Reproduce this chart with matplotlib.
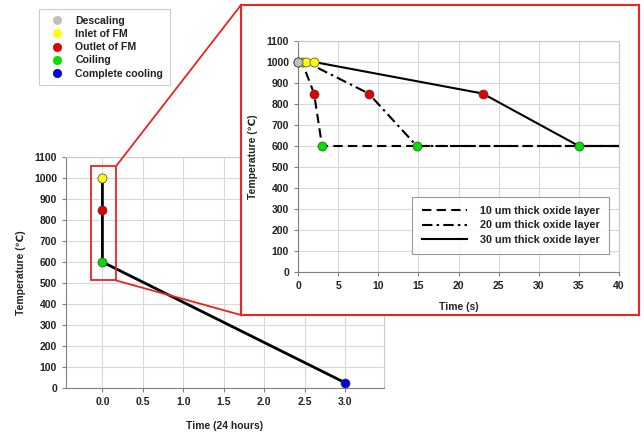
import matplotlib
matplotlib.use("Agg")
import matplotlib.pyplot as plt
from matplotlib.lines import Line2D
from matplotlib.patches import Rectangle, ConnectionPatch

plt.rcParams['font.family'] = ['Liberation Sans', 'DejaVu Sans']
plt.rcParams['font.weight'] = 'bold'

# ---- data ----
stage_names = ['Descaling', 'Inlet of FM', 'Outlet of FM', 'Coiling', 'Complete cooling']
stage_colors = ['#c0c0c0', '#ffff00', '#e00000', '#00e000', '#0000e0']

main_time = [0.0, 0.0, 0.0, 3.0]          # 24 hours
main_temp = [1000, 850, 600, 25]
main_stage = [1, 2, 3, 4]

series_labels = ['10 um thick oxide layer', '20 um thick oxide layer', '30 um thick oxide layer']
t10 = [0, 0.5, 2.0, 3.0, 40]
T10 = [1000, 1000, 850, 600, 600]
t20 = [0, 1.0, 8.8, 14.8, 40]
T20 = [1000, 1000, 850, 600, 600]
t30 = [0, 2.0, 23.0, 35.0, 40]
T30 = [1000, 1000, 850, 600, 600]
inset_stage = [0, 1, 2, 3]

main_yticks = list(range(0, 1101, 100))
main_xticks = [0.0, 0.5, 1.0, 1.5, 2.0, 2.5, 3.0]
inset_xticks = list(range(0, 41, 5))

W, H = 644, 432
fig = plt.figure(figsize=(W/100, H/100), dpi=100)

def fbox(x0, y0, x1, y1):
    return [x0/W, 1 - y1/H, (x1-x0)/W, (y1-y0)/H]

tick_fs = 7.5
grid_c = '#d9d9d9'

def style_axes(ax):
    ax.grid(True, color=grid_c, lw=0.8)
    ax.set_axisbelow(True)
    for s in ['top', 'right']:
        ax.spines[s].set_color('#c8c8c8')
    for s in ['left', 'bottom']:
        ax.spines[s].set_color('#808080')
    ax.tick_params(labelsize=tick_fs, colors='#808080', labelcolor='#222222', length=3, width=0.8)
    for lab in ax.get_xticklabels() + ax.get_yticklabels():
        lab.set_fontweight('bold')

# ---- main axes ----
ax = fig.add_axes(fbox(66, 157, 384, 388))
ax.plot(main_time, main_temp, color='black', lw=2, zorder=3)
for t, T, s in zip(main_time, main_temp, main_stage):
    ax.plot(t, T, 'o', ms=6.5, mfc=stage_colors[s], mec='#404040', mew=0.5, zorder=4)
ax.set_xlim(-0.45, 3.48)
ax.set_ylim(0, 1100)
ax.set_xticks(main_xticks)
ax.set_xticklabels([f'{v:.1f}' for v in main_xticks])
ax.set_yticks(main_yticks)
style_axes(ax)
ax.set_xlabel('Time (24 hours)', fontsize=7.5, fontweight='bold', color='#222222', labelpad=10)
ax.set_ylabel('Temperature (\u2103)', fontsize=7.5, fontweight='bold', color='#222222', labelpad=6)
ax.add_patch(Rectangle((-0.14, 512), 0.31, 545, fill=False, ec='#ee2222', lw=1.3, zorder=5))

# ---- inset frame ----
frame = fig.add_axes(fbox(241, 5, 639, 315))
frame.set_xticks([]); frame.set_yticks([])
for s in frame.spines.values():
    s.set_color('#ee2222'); s.set_linewidth(1.5)
frame.set_facecolor('white')

# ---- inset axes ----
ix = fig.add_axes(fbox(298, 41, 619, 272))
styles = [(0, (4.5, 2.5)), (0, (5, 2, 1.2, 2)), '-']
for (t, T, lab, ls) in zip([t10, t20, t30], [T10, T20, T30], series_labels, styles):
    ix.plot(t, T, color='black', lw=1.5, linestyle=ls, label=lab, zorder=3)
for (t, T) in zip([t10, t20, t30], [T10, T20, T30]):
    for i in inset_stage:
        ix.plot(t[i], T[i], 'o', ms=6.5, mfc=stage_colors[i], mec='#404040', mew=0.5,
                zorder=4, clip_on=False)
ix.set_xlim(0, 40)
ix.set_ylim(0, 1100)
ix.set_xticks(inset_xticks)
ix.set_yticks(main_yticks)
style_axes(ix)
ix.set_xlabel('Time (s)', fontsize=7.5, fontweight='bold', color='#222222', labelpad=8)
ix.set_ylabel('Temperature (\u2103)', fontsize=7.5, fontweight='bold', color='#222222', labelpad=6)
leg = ix.legend(loc='upper right', bbox_to_anchor=(0.969, 0.325), fontsize=7.8, frameon=True,
                fancybox=False, edgecolor='#808080', handlelength=4.2, borderpad=0.85,
                labelspacing=0.4, handletextpad=1.2, borderaxespad=0)
leg.get_frame().set_linewidth(0.8)
for txt in leg.get_texts():
    txt.set_fontweight('bold'); txt.set_color('#222222')

# ---- connector lines ----
for yv, fy in [(1057, 1), (512, 0)]:
    cp = ConnectionPatch(xyA=(0.17, yv), coordsA=ax.transData, xyB=(0, fy), coordsB=frame.transAxes,
                         color='#ee2222', lw=1.3, zorder=10)
    fig.add_artist(cp)

# ---- stage legend ----
handles = [Line2D([], [], ls='none', marker='o', ms=6, mfc=c, mec=c, mew=0.5) for c in stage_colors]
sleg = fig.legend(handles, stage_names, loc='upper left', bbox_to_anchor=(39/W, 1-9/H),
                  fontsize=7.6, frameon=True, fancybox=False, edgecolor='#c0c0c0',
                  handlelength=2.2, handletextpad=0.6, labelspacing=0.3, borderpad=0.65,
                  borderaxespad=0)
sleg.get_frame().set_linewidth(0.8)
for txt in sleg.get_texts():
    txt.set_fontweight('bold'); txt.set_color('#222222')

fig.savefig('out.png', dpi=100)
